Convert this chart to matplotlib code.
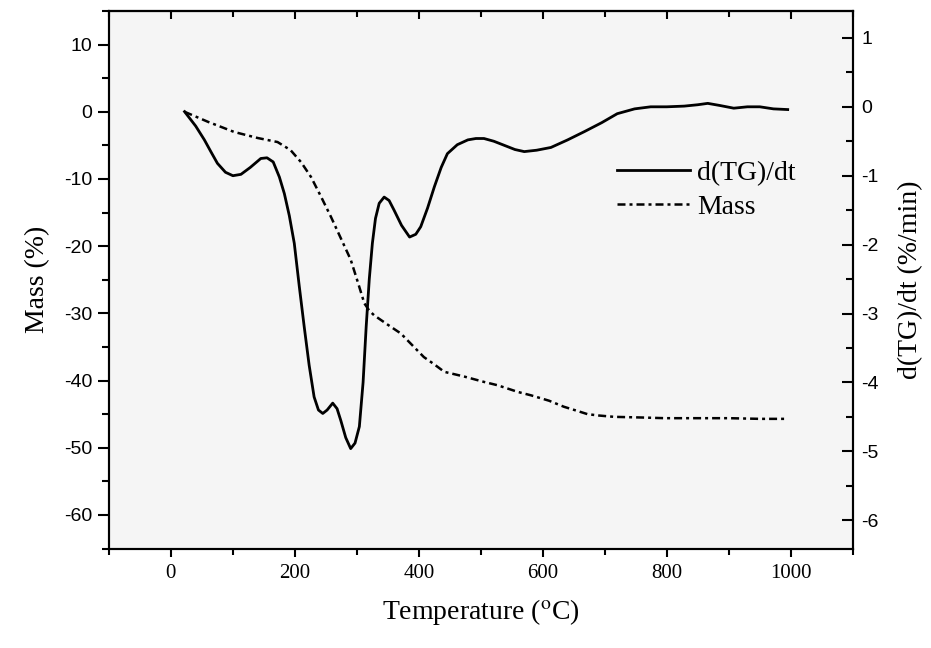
import numpy as np
import matplotlib
matplotlib.use('Agg')
import matplotlib.pyplot as plt
from matplotlib.ticker import MultipleLocator

plt.rcParams['mathtext.fontset'] = 'stix'
plt.rcParams['axes.unicode_minus'] = False

# TGA run: mass loss and its derivative vs temperature
temp_dtg = [22, 40, 54, 65, 75, 88, 100, 113, 128, 145, 155, 165, 175, 183, 191, 199,
            207, 215, 223, 231, 238, 245, 252, 261, 268, 274, 282, 290, 297, 304, 310,
            315, 320, 325, 330, 336, 344, 352, 360, 372, 385, 395, 403, 414, 425, 436,
            446, 462, 479, 492, 505, 521, 538, 555, 570, 590, 613, 640, 667, 695, 720,
            748, 774, 800, 828, 850, 866, 885, 908, 930, 950, 972, 995]
dtg = [-0.07, -0.28, -0.48, -0.66, -0.82, -0.95, -1.0, -0.98, -0.88, -0.75, -0.74, -0.8,
       -1.02, -1.26, -1.58, -1.98, -2.6, -3.19, -3.75, -4.21, -4.4, -4.45, -4.4, -4.3,
       -4.38, -4.55, -4.8, -4.96, -4.88, -4.64, -4.0, -3.19, -2.5, -1.98, -1.62, -1.40,
       -1.31, -1.36, -1.5, -1.72, -1.89, -1.85, -1.74, -1.47, -1.16, -0.88, -0.68, -0.55,
       -0.48, -0.46, -0.46, -0.5, -0.56, -0.62, -0.65, -0.63, -0.59, -0.48, -0.36, -0.23,
       -0.10, -0.03, 0.0, 0.0, 0.01, 0.03, 0.05, 0.02, -0.02, 0.0, 0.0, -0.03, -0.04]

temp_mass = [22, 60, 102, 140, 172, 193, 210, 226, 242, 258, 274, 290, 302, 312, 320, 328,
             350, 371, 390, 408, 425, 441, 473, 505, 527, 560, 581, 610, 634, 655, 672,
             690, 715, 760, 797, 850, 900, 950, 990]
mass = [0, -1.5, -3.0, -3.9, -4.5, -5.7, -7.5, -9.7, -12.6, -15.6, -18.8, -22, -25.5,
        -28.5, -29.6, -30.3, -31.7, -33, -34.8, -36.5, -37.6, -38.7, -39.4, -40.2, -40.7,
        -41.7, -42.2, -43.0, -43.9, -44.5, -45.0, -45.2, -45.4, -45.5, -45.6, -45.6,
        -45.6, -45.7, -45.7]

serif = 'Liberation Serif'
sans = 'Liberation Sans'

fig = plt.figure(figsize=(9.31, 6.48), dpi=100)
ax = fig.add_axes([0.117, 0.1535, 0.799, 0.8295])
ax.set_facecolor('#f5f5f5')
ax2 = ax.twinx()

l_mass, = ax.plot(temp_mass, mass, color='black', lw=1.8,
                  linestyle=(0, (3.2, 1.6, 1.2, 1.6)), label='Mass')
l_dtg, = ax2.plot(temp_dtg, dtg, color='black', lw=2.0, label='d(TG)/dt')

ax.set_xlim(-100, 1100)
ax.set_ylim(-65, 15)
ax2.set_ylim(-6.41, 1.39)

ax.xaxis.set_major_locator(MultipleLocator(200))
ax.xaxis.set_minor_locator(MultipleLocator(100))
ax.yaxis.set_major_locator(MultipleLocator(10))
ax.yaxis.set_minor_locator(MultipleLocator(5))
ax2.set_yticks([1, 0, -1, -2, -3, -4, -5, -6])
ax2.yaxis.set_minor_locator(MultipleLocator(0.5))

for sp in list(ax.spines.values()) + list(ax2.spines.values()):
    sp.set_linewidth(1.5)

ax.tick_params(axis='x', which='both', direction='out', top=False, width=1.5)
ax.tick_params(axis='x', which='major', length=6, pad=5)
ax.tick_params(axis='x', which='minor', length=4)
ax.tick_params(axis='y', which='both', direction='out', right=False, width=1.5)
ax.tick_params(axis='y', which='major', length=8, pad=4)
ax.tick_params(axis='y', which='minor', length=5)
ax2.tick_params(axis='y', which='both', direction='in', width=1.5)
ax2.tick_params(axis='y', which='major', length=8, pad=6)
ax2.tick_params(axis='y', which='minor', length=5)

# top ticks point into the frame
sec = ax.secondary_xaxis('top')
sec.xaxis.set_major_locator(MultipleLocator(200))
sec.xaxis.set_minor_locator(MultipleLocator(100))
sec.tick_params(which='both', direction='in', labeltop=False, width=1.5)
sec.tick_params(which='major', length=6)
sec.tick_params(which='minor', length=4)
sec.spines['top'].set_linewidth(1.5)

for lab in ax.get_xticklabels():
    lab.set_fontfamily(serif)
    lab.set_fontsize(15)
for lab in ax.get_yticklabels() + ax2.get_yticklabels():
    lab.set_fontfamily(sans)
    lab.set_fontsize(14)

ax.set_xlabel('Temperature ($^{\\rm o}$C)', fontfamily=serif, fontsize=20, labelpad=10)
ax.set_ylabel('Mass (%)', fontfamily=serif, fontsize=20, labelpad=10)
ax2.set_ylabel('d(TG)/dt (%/min)', fontfamily=serif, fontsize=20, labelpad=14)

leg = ax2.legend([l_dtg, l_mass], ['d(TG)/dt', 'Mass'], loc='center left',
                 bbox_to_anchor=(0.664, 0.667), frameon=False, borderpad=0,
                 handlelength=2.65, handletextpad=0.25, labelspacing=0.3,
                 prop={'family': serif, 'size': 20})

fig.savefig('out.png', dpi=100)
